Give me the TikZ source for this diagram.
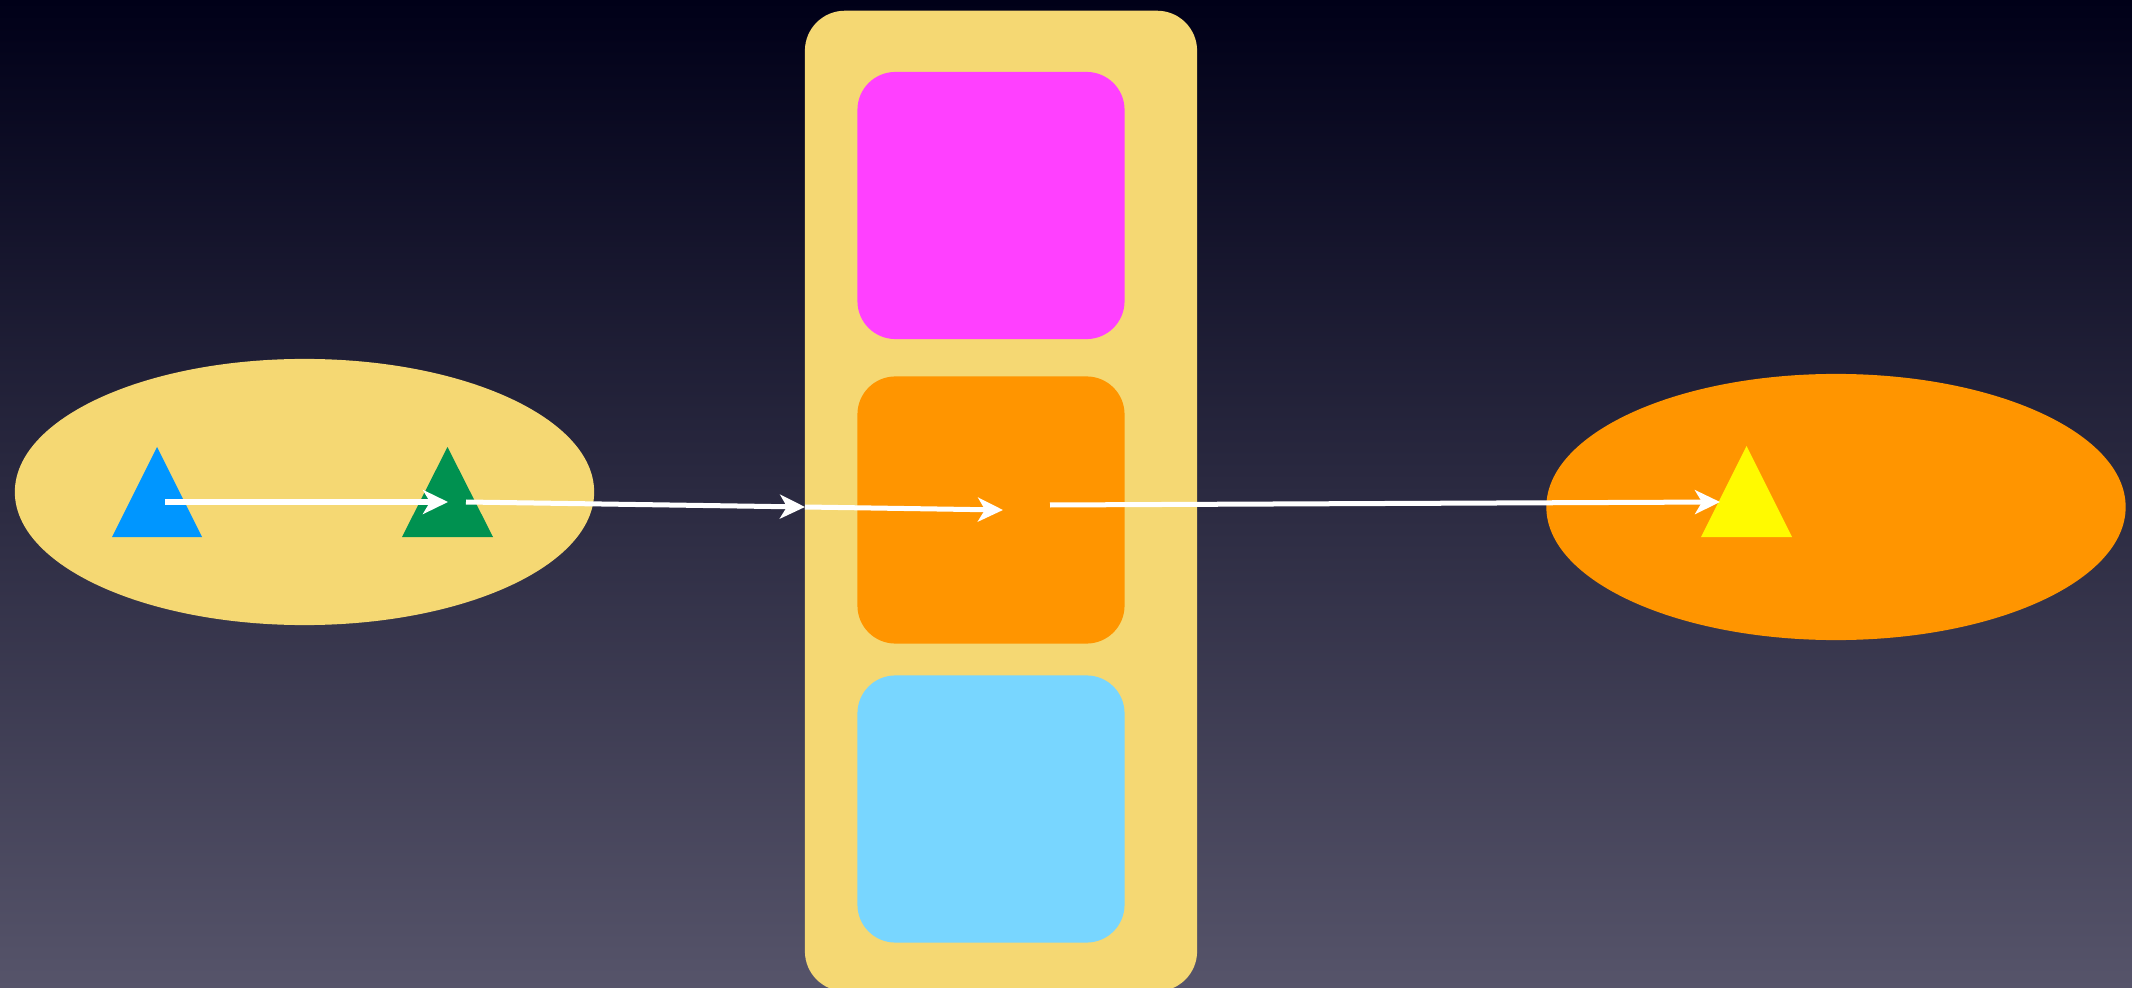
\documentclass[tikz,border=0pt]{standalone}
\usetikzlibrary{arrows.meta,shapes.geometric}
\definecolor{bgtop}{RGB}{0,0,24}
\definecolor{bgmid}{RGB}{36,35,60}
\definecolor{bgbot}{RGB}{86,84,106}
\definecolor{sand}{RGB}{245,216,115}
\definecolor{magbox}{RGB}{255,64,255}
\definecolor{orabox}{RGB}{255,149,0}
\definecolor{skybox}{RGB}{120,214,255}
\definecolor{tblue}{RGB}{0,150,255}
\definecolor{tgreen}{RGB}{0,145,80}
\definecolor{tyellow}{RGB}{255,250,0}
\tikzset{
  pane/.style={draw=none, inner sep=0pt, rounded corners=0.38cm, minimum width=2.67cm, minimum height=2.67cm},
  columnbox/.style={draw=none, fill=sand, inner sep=0pt, rounded corners=0.40cm, minimum width=3.92cm, minimum height=9.8cm},
  blob/.style={ellipse, draw=none, inner sep=0pt, minimum width=5.79cm, minimum height=2.66cm},
  flow/.style={draw=white, line width=0.05cm, -{Stealth[length=0.25cm, width=0.24cm, inset=0.07cm]}}
}
\begin{document}
\begin{tikzpicture}[x={(0.01cm,0)}, y={(0,-0.01cm)}]
\useasboundingbox (0,0) rectangle (2132,988);
\shade[top color=bgtop, middle color=bgmid, bottom color=bgbot] (0,0) rectangle (2132,988);
% left ellipse and column
\node[blob, fill=sand] (lell) at (304.5,492) {};
\node[blob, fill=orabox] (rell) at (1836,507) {};
\node[columnbox] (col) at (1001,501) {};
\node[pane, fill=magbox] (mag) at (991,205.5) {};
\node[pane, fill=orabox] (ora) at (991,510) {};
\node[pane, fill=skybox] (sky) at (991,809) {};
% triangles
\fill[tblue] (112,537) -- (202,537) -- (157,447) -- cycle;
\fill[tgreen] (402,537) -- (493,537) -- (447.5,447) -- cycle;
\fill[tyellow] (1701,537) -- (1792,537) -- (1746.5,446) -- cycle;
% connector ends
\coordinate (a1s) at (165,502);
\coordinate (a1e) at (448,502);
\coordinate (a2s) at (466,502);
\coordinate (a2e) at (805,507);
\coordinate (a3e) at (1003,510);
\coordinate (a4s) at (1050,505);
\coordinate (a4e) at (1720,502);
\draw[flow] (a1s) -- (a1e);
\draw[flow] (a2s) -- (a2e);
\draw[flow] (a2e) -- (a3e);
\draw[flow] (a4s) -- (a4e);
\end{tikzpicture}
\end{document}
